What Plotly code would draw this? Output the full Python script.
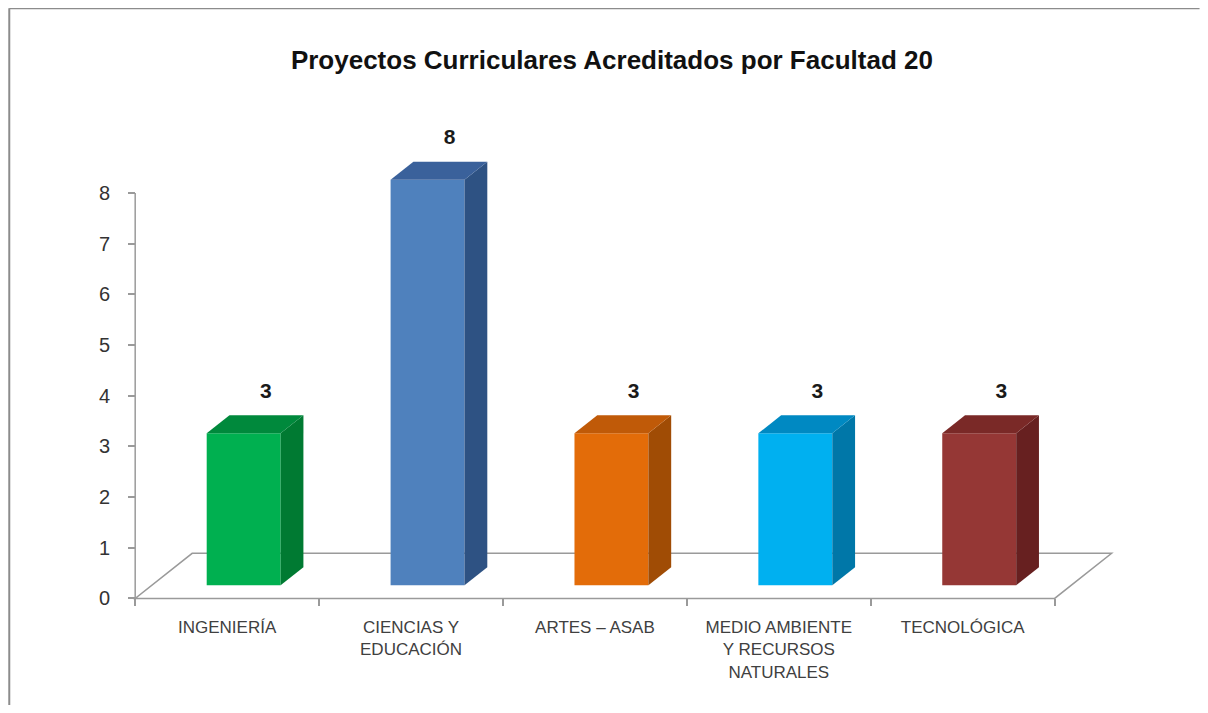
import plotly.graph_objects as go

# ---- data ----
categories = ["INGENIERÍA", "CIENCIAS Y<br>EDUCACIÓN", "ARTES – ASAB",
              "MEDIO AMBIENTE<br>Y RECURSOS<br>NATURALES", "TECNOLÓGICA"]
values = [3, 8, 3, 3, 3]
front_colors = ["#00B050", "#4F81BD", "#E36C09", "#00B0F0", "#953735"]
top_colors = ["#00893C", "#3A619B", "#C05A08", "#0089C2", "#7A2927"]
side_colors = ["#007A32", "#2E5283", "#A04C05", "#0077A8", "#672020"]
y_ticks = [0, 1, 2, 3, 4, 5, 6, 7, 8]
title_text = "Proyectos Curriculares Acreditados por Facultad 20"

# ---- layout geometry (page has an 8px body margin on each side) ----
OFF = 8
W, H = 1208 - 2 * OFF, 713 - 2 * OFF
XR = [-0.55, 4.85]
YR = [-0.15, 9.3]
PXX = 184.0   # px per x unit
PXY = 50.6    # px per y unit
L = 135 - 0.05 * PXX - OFF
R = W - (L + (XR[1] - XR[0]) * PXX)
T = 598 - YR[1] * PXY - OFF
B = H - (598 - YR[0] * PXY - OFF)
DEPTH_X = 57 / PXX   # floor depth vector (x units)
DEPTH_Y = 45 / PXY   # floor depth vector (y units)
D0, D1 = 0.29, 0.69  # bar depth extent as fractions of floor depth
HALF = 0.201

GRAY = "#9A9A9A"
sans = "Liberation Sans, Arial"

fig = go.Figure()

n = len(values)
xs = list(range(n))

# front faces as bars
fig.add_trace(go.Bar(
    x=[i + D0 * DEPTH_X for i in xs], y=values, base=D0 * DEPTH_Y,
    width=2 * HALF, marker=dict(color=front_colors, line=dict(width=0)),
    hoverinfo="skip", showlegend=False,
))

# side and top faces
for i, v in zip(xs, values):
    fx_l = i - HALF + D0 * DEPTH_X
    fx_r = i + HALF + D0 * DEPTH_X
    fy_b = D0 * DEPTH_Y
    fy_t = v + D0 * DEPTH_Y
    ddx = (D1 - D0) * DEPTH_X
    ddy = (D1 - D0) * DEPTH_Y
    fig.add_trace(go.Scatter(
        x=[fx_r, fx_r + ddx, fx_r + ddx, fx_r, fx_r],
        y=[fy_b, fy_b + ddy, fy_t + ddy, fy_t, fy_b],
        fill="toself", fillcolor=side_colors[i], mode="lines",
        line=dict(width=0, color=side_colors[i]), hoverinfo="skip", showlegend=False))
    fig.add_trace(go.Scatter(
        x=[fx_l, fx_r, fx_r + ddx, fx_l + ddx, fx_l],
        y=[fy_t, fy_t, fy_t + ddy, fy_t + ddy, fy_t],
        fill="toself", fillcolor=top_colors[i], mode="lines",
        line=dict(width=0, color=top_colors[i]), hoverinfo="skip", showlegend=False))

# value labels
fig.add_trace(go.Scatter(
    x=[i + 0.12 + D0 * DEPTH_X for i in xs],
    y=[v + D1 * DEPTH_Y + 0.45 for v in values],
    mode="text", text=[str(v) for v in values],
    textfont=dict(family=sans, size=21, color="#1a1a1a"),
    texttemplate="<b>%{text}</b>", hoverinfo="skip", showlegend=False, cliponaxis=False))

# y axis line
fig.add_trace(go.Scatter(
    x=[-0.5, -0.5], y=[0, y_ticks[-1]], mode="lines",
    line=dict(color=GRAY, width=1.5), hoverinfo="skip", showlegend=False))

# floor (below traces)
x0, x1 = -0.5, n - 0.5
fig.add_shape(type="path", xref="x", yref="y", layer="below",
              path=f"M {x0},0 L {x1},0 L {x1 + DEPTH_X},{DEPTH_Y} L {x0 + DEPTH_X},{DEPTH_Y} Z",
              line=dict(color=GRAY, width=1.5), fillcolor="white")

# outer frame (top and left edges)
pw = W - L - R
ph = H - T - B
fx0 = (1 - L) / pw
fy1 = (H - B - 1) / ph
fig.add_shape(type="line", xref="paper", yref="paper", x0=fx0, x1=(W - L) / pw,
              y0=fy1, y1=fy1, line=dict(color="#8C8C8C", width=2))
fig.add_shape(type="line", xref="paper", yref="paper", x0=fx0, x1=fx0,
              y0=fy1, y1=-B / ph, line=dict(color="#8C8C8C", width=2))

y0_paper = (0 - YR[0]) / (YR[1] - YR[0])
xpos_paper = (-0.5 - XR[0]) / (XR[1] - XR[0])

fig.update_layout(
    width=W, height=H,
    margin=dict(l=L, r=R, t=T, b=B, pad=0),
    paper_bgcolor="white", plot_bgcolor="white",
    showlegend=False,
    title=dict(text=f"<b>{title_text}</b>", x=(612 - OFF - L) / pw, xref="paper", xanchor="center",
               y=(H - (60 - OFF)) / H, yref="container", yanchor="middle",
               font=dict(family=sans, size=26, color="#111111")),
    xaxis=dict(range=XR, tickmode="array", tickvals=xs, ticktext=categories,
               showgrid=False, zeroline=False, showline=False, ticks="",
               anchor="free", position=y0_paper, ticklabelstandoff=17,
               tickfont=dict(family=sans, size=17, color="#404040")),
    xaxis2=dict(range=XR, overlaying="x", side="bottom", anchor="free", position=y0_paper,
                tickmode="array", tickvals=[k - 0.5 for k in range(n + 1)],
                ticks="outside", ticklen=7, tickwidth=1.5, tickcolor=GRAY,
                showticklabels=False, showgrid=False, zeroline=False, showline=False),
    yaxis=dict(range=YR, tickmode="array", tickvals=y_ticks, showgrid=False, zeroline=False,
               showline=False, ticks="outside", ticklen=7, tickwidth=1.5, tickcolor=GRAY,
               anchor="free", position=xpos_paper, ticklabelstandoff=14,
               tickfont=dict(family=sans, size=20, color="#333333")),
)
# dummy trace to activate xaxis2
fig.add_trace(go.Scatter(x=[None], y=[None], xaxis="x2", yaxis="y", showlegend=False, hoverinfo="skip"))

fig.write_html("out.html")
